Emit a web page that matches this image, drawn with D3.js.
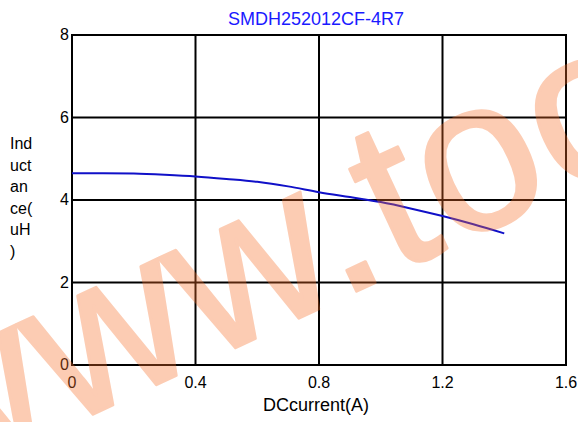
<html lang="en">
<head>
    <meta charset="UTF-8"/>
    <title>SMDH252012CF-4R7</title>
    <style>
        body { margin: 0; background: #fff; }
        svg { display: block; }
        text { font-family: Arial, "Liberation Sans", sans-serif; }
    </style>
</head>
<body>
<svg width="578" height="422"></svg>
<script src="https://d3js.org/d3.v7.min.js"></script>
<script>
    const chartTitle = "SMDH252012CF-4R7";
    const xTitle = "DCcurrent(A)";
    const yTitleLines = ["Ind", "uct", "an", "ce(", "uH", ")"];
    const xTicks = [0, 0.4, 0.8, 1.2, 1.6];
    const yTicks = [0, 2, 4, 6, 8];
    const current = [0, 0.1, 0.2, 0.3, 0.4, 0.5, 0.6, 0.7, 0.8, 0.9, 1.0, 1.1, 1.2, 1.3, 1.4];
    const inductance = [4.65, 4.65, 4.64, 4.61, 4.57, 4.51, 4.44, 4.33, 4.19, 4.07, 3.95, 3.79, 3.61, 3.41, 3.19];
    const watermark = "www.too";

    const svg = d3.select("svg");
    const x = d3.scaleLinear().domain([0, 1.6]).range([72, 566]);
    const y = d3.scaleLinear().domain([0, 8]).range([365, 35]);

    // grid (also forms the frame)
    const grid = svg.append("g").attr("stroke", "#000").attr("stroke-width", 2);
    grid.selectAll("line.v").data(xTicks).join("line")
        .attr("class", "v")
        .attr("x1", d => x(d)).attr("x2", d => x(d))
        .attr("y1", y(0)).attr("y2", y(8));
    grid.selectAll("line.h").data(yTicks).join("line")
        .attr("class", "h")
        .attr("x1", x(0) - 1).attr("x2", x(1.6) + 1)
        .attr("y1", d => y(d)).attr("y2", d => y(d));

    // tick labels
    svg.append("g").selectAll("text").data(yTicks).join("text")
        .attr("x", x(0) - 3).attr("y", d => y(d) + 5)
        .attr("text-anchor", "end").attr("font-size", 16)
        .text(d => d);
    svg.append("g").selectAll("text").data(xTicks).join("text")
        .attr("x", d => x(d)).attr("y", 388)
        .attr("text-anchor", "middle").attr("font-size", 16)
        .text(d => d);

    // titles
    svg.append("text")
        .attr("x", 316).attr("y", 25)
        .attr("text-anchor", "middle").attr("font-size", 18)
        .attr("fill", "#1a1aff")
        .text(chartTitle);
    svg.append("text")
        .attr("x", 316).attr("y", 411)
        .attr("text-anchor", "middle").attr("font-size", 18)
        .text(xTitle);
    svg.append("g").selectAll("text").data(yTitleLines).join("text")
        .attr("x", 10).attr("y", (d, i) => 149 + i * 21.5)
        .attr("font-size", 16)
        .text(d => d);

    // curve
    const line = d3.line()
        .x((d, i) => x(current[i]))
        .y(d => y(d))
        .curve(d3.curveMonotoneX);
    svg.append("path")
        .datum(inductance)
        .attr("d", line)
        .attr("fill", "none")
        .attr("stroke", "#1010c8")
        .attr("stroke-width", 2);

    // watermark on top (group opacity so the thickening stroke doesn't double up)
    svg.append("g")
        .attr("opacity", 0.35)
        .append("text")
        .attr("transform", "translate(-78,494) rotate(-25)")
        .attr("font-size", 215)
        .attr("letter-spacing", 2)
        .attr("fill", "#f76e28")
        .attr("stroke", "#f76e28")
        .attr("stroke-width", 3)
        .attr("stroke-linejoin", "round")
        .text(watermark);
</script>
</body>
</html>
